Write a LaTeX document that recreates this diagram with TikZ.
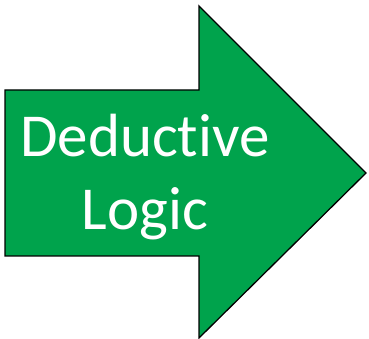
\documentclass[tikz,border=0pt]{standalone}
\usepackage{fontspec}
\setmainfont[Ligatures=CommonOff]{Carlito}
\usepackage{tikz}
\definecolor{arrowgreen}{RGB}{0,163,76}

\begin{document}
\begin{tikzpicture}[x=1pt,y=1pt]
\useasboundingbox (0,0) rectangle (369,339);
\draw[line width=1.3pt,fill=arrowgreen,line join=miter] (5,83)--(5,249)--(199,249)--(199,333)--(366,166)--(199,1)--(199,83)--cycle;
\node[anchor=base,align=center,text=white,font=\fontsize{61}{73}\selectfont,inner sep=0pt] (label) at (145,109) {Deductive\\Logic};
\end{tikzpicture}
\end{document}
